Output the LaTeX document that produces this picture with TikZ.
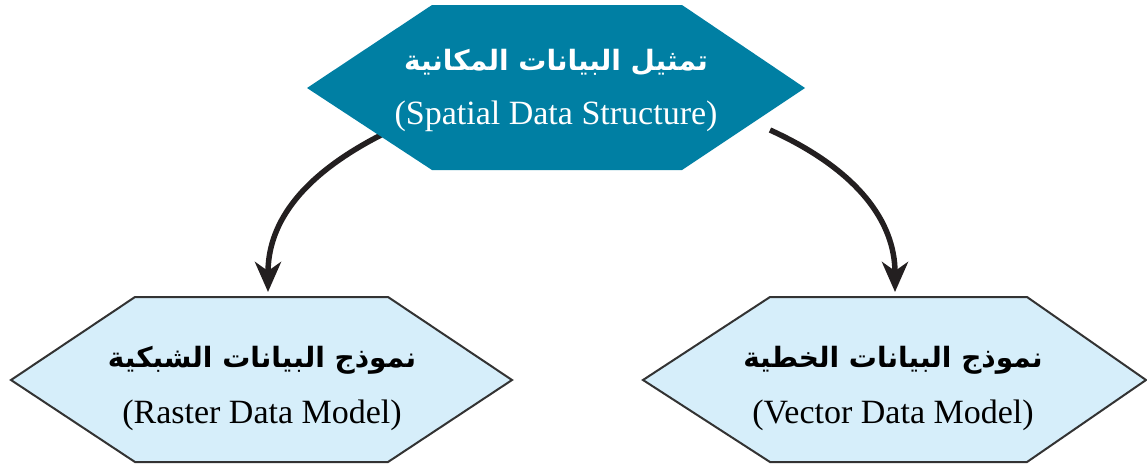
\documentclass[tikz,border=0pt]{standalone}
\usepackage{fontspec}
\setmainfont{Liberation Serif}
\newfontfamily\arabicfont[Script=Arabic]{DejaVu Sans}
\TeXXeTstate=1
\usetikzlibrary{arrows.meta}
\definecolor{topfill}{HTML}{007FA3}
\definecolor{subfill}{HTML}{D6EEFA}
\definecolor{edgecol}{HTML}{333333}
\definecolor{arrowcol}{HTML}{231F20}
\begin{document}
\begin{tikzpicture}[x=1pt,y=-1pt,
  conn/.style={draw=arrowcol,line width=5.5pt,-{Stealth[length=30pt,width=26pt,inset=9pt]}},
  arlbl/.style={inner sep=0pt,font=\arabicfont\bfseries\fontsize{28}{32}\selectfont},
  enlbl/.style={inner sep=0pt,font=\fontsize{34}{38}\selectfont},
  tophex/.style={fill=topfill},
  subhex/.style={fill=subfill,draw=edgecol,line width=2pt,line join=miter}]
\useasboundingbox (0,0) rectangle (1147,464);
% connectors
\coordinate (s1) at (385,133);
\coordinate (s2) at (770,130);
\coordinate (e1) at (268,292);
\coordinate (e2) at (895,292);
\draw[conn] (s1) .. controls (295,178) and (268,228) .. (e1);
\draw[conn] (s2) .. controls (858,170) and (895,222) .. (e2);
% hexagons
\path[tophex] (307,88) -- (432,5) -- (682,5) -- (805,88) -- (682,170) -- (432,170) -- cycle;
\path[subhex] (11,380) -- (135,297) -- (388,297) -- (512,380) -- (388,462) -- (135,462) -- cycle;
\path[subhex] (643,380) -- (770,297) -- (1027,297) -- (1146,380) -- (1027,462) -- (770,462) -- cycle;
% texts
\node[arlbl,text=white,anchor=base] (ta) at (556,70) {\beginR تمثيل البيانات المكانية\endR};
\node[enlbl,text=white,anchor=base] (te) at (556,124) {(Spatial Data Structure)};
\node[arlbl,anchor=base] (la) at (262,367) {\beginR نموذج البيانات الشبكية\endR};
\node[enlbl,anchor=base] (le) at (262,423) {(Raster Data Model)};
\node[arlbl,anchor=base] (ra) at (893,367) {\beginR نموذج البيانات الخطية\endR};
\node[enlbl,anchor=base] (re) at (893,423) {(Vector Data Model)};
\end{tikzpicture}
\end{document}
